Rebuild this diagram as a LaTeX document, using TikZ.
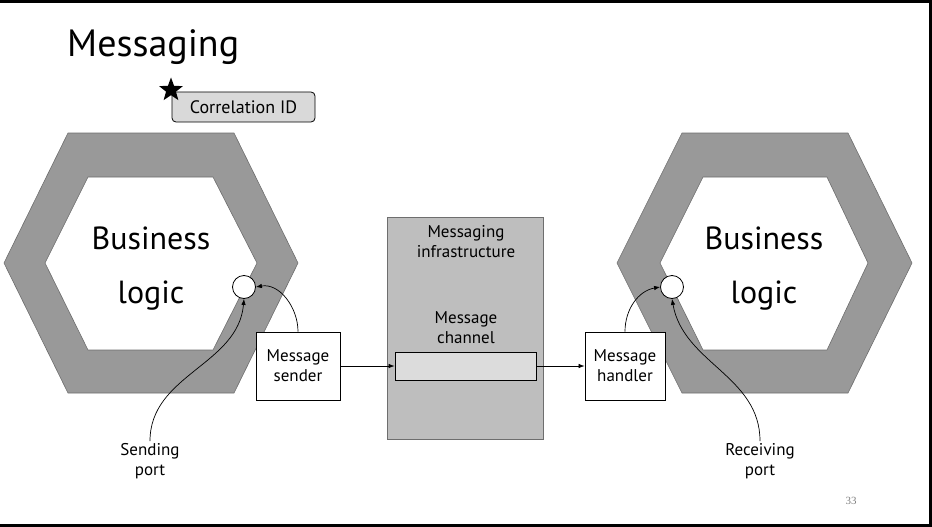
\documentclass[tikz,border=0pt]{standalone}
\usepackage{fontspec}
\setmainfont{PT Sans}
\newfontfamily\pgnumfont{Liberation Serif}
\usetikzlibrary{shapes.geometric,arrows.meta}
\definecolor{hexgray}{RGB}{153,153,153}
\definecolor{hexedge}{RGB}{110,110,110}
\definecolor{infragray}{RGB}{190,190,190}
\definecolor{chgray}{RGB}{220,220,220}
\definecolor{corrgray}{RGB}{217,217,217}
\begin{document}
\begin{tikzpicture}[x=1pt,y=-1pt,
  hexring/.style={fill=hexgray,draw=hexedge,line width=0.6pt,even odd rule},
  boxnode/.style={draw=black,fill=white,line width=0.8pt,align=center,inner sep=0pt,font=\fontsize{17}{20}\selectfont},
  port/.style={circle,draw=black,fill=white,line width=0.8pt,minimum size=23pt,inner sep=0pt},
  conn/.style={draw=black,line width=0.7pt,-{Latex[length=6pt,width=4.5pt]}},
  lbl/.style={align=center,inner sep=2pt,font=\fontsize{17}{20}\selectfont},
  big/.style={inner sep=0pt,font=\fontsize{32}{36}\selectfont},
  frameline/.style={line width=2.6pt,draw=black}
]
\useasboundingbox (0,0) rectangle (932,527);
% frame
\draw[frameline] (0,1.3) -- (932,1.3);
\draw[frameline] (930.7,0) -- (930.7,527);
\draw[frameline] (0,525.7) -- (932,525.7);
% title
\node[anchor=base west,inner sep=0pt,font=\fontsize{38}{42}\selectfont] (title) at (67,57) {Messaging};
% correlation id
\node[draw=black,fill=corrgray,rounded corners=4pt,line width=0.8pt,minimum width=143pt,minimum height=30pt,inner sep=0pt,font=\fontsize{18}{20}\selectfont] (corr) at (243.5,107) {Correlation ID};
\node[star,star points=5,star point ratio=2.4,fill=black,minimum size=25pt,inner sep=0pt] (starmark) at (171,90) {};
% left hexagon
\path[hexring] (4,263)--(68,133)--(234,133)--(298,263)--(234,393)--(68,393)--cycle
  (45,263)--(88,177)--(213,177)--(257,263)--(213,350)--(88,350)--cycle;
% right hexagon
\path[hexring] (617,263)--(682,133)--(848,133)--(912,263)--(848,393)--(682,393)--cycle
  (660,263)--(703,177)--(827,177)--(868,263)--(827,350)--(703,350)--cycle;
% business logic texts
\node[big,anchor=base] (bl1) at (151,249) {Business};
\node[big,anchor=base] (bl2) at (151,303) {logic};
\node[big,anchor=base] (br1) at (764,249) {Business};
\node[big,anchor=base] (br2) at (764,303) {logic};
% ports
\node[port] (sp) at (244,287) {};
\node[port] (rp) at (672,287) {};
% infrastructure
\node[draw=hexedge,fill=infragray,line width=0.8pt,minimum width=156pt,minimum height=222pt,inner sep=0pt] (infra) at (465,328) {};
\node[lbl] (infralbl) at (466,242) {Messaging\\infrastructure};
\node[lbl] (chlbl) at (466,328) {Message\\channel};
\node[draw=black,fill=chgray,line width=0.8pt,minimum width=141pt,minimum height=28pt,inner sep=0pt] (chan) at (465.5,366) {};
% sender / handler
\node[boxnode,minimum width=84pt,minimum height=68pt] (sender) at (298,366) {Message\\sender};
\node[boxnode,minimum width=80pt,minimum height=68pt] (handler) at (625,366) {Message\\handler};
% labels
\node[lbl] (sendlbl) at (150,461) {Sending\\port};
\node[lbl] (recvlbl) at (760,461) {Receiving\\port};
% page number
\node[inner sep=0pt,text=gray,font=\pgnumfont\fontsize{11}{12}\selectfont] (pgnum) at (851,501) {33};
% connectors
\draw[conn] (sender.east) -- (chan.west);
\draw[conn] (chan.east) -- (handler.west);
\draw[conn] (sender.north) to[out=90,in=10] (sp.east);
\draw[conn] (handler.north) to[out=90,in=190] (rp.west);
\draw[conn] (sendlbl.north) to[out=90,in=-95] (sp.south);
\draw[conn] (recvlbl.north) to[out=90,in=-80] (rp.south);
\end{tikzpicture}
\end{document}
